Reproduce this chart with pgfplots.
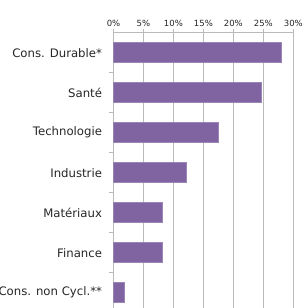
\documentclass[border=0pt]{standalone}
\usepackage{pgfplots}
\pgfplotsset{compat=1.18}
\usepackage{fontspec}
\setmainfont{DejaVu Sans}
\definecolor{barpurple}{HTML}{8064A2}
\definecolor{baredge}{HTML}{9A85B6}
\definecolor{gridgray}{HTML}{BABABA}
\begin{document}
\begin{tikzpicture}
\begin{axis}[
  name=ax,
  scale only axis,
  width=179.8pt, height=280pt,
  xbar,
  bar width=20pt,
  xmin=0, xmax=30,
  ymin=-0.5, ymax=6.5,
  y dir=reverse,
  xtick={0,5,...,30},
  xticklabels={0\%,5\%,10\%,15\%,20\%,25\%,30\%},
  xticklabel pos=top,
  xtick pos=top,
  tick align=outside,
  major tick length=4pt,
  xmajorgrids,
  grid style={gridgray, line width=1.3pt},
  axis line style={gridgray, line width=1.3pt},
  tick style={gridgray, line width=1.3pt},
  ytick={0.5,1.5,2.5,3.5,4.5,5.5},
  yticklabels={},
  ytick pos=left,
  extra y ticks={0,1,2,3,4,5,6},
  extra y tick labels={Cons. Durable*,Santé,Technologie,Industrie,Matériaux,Finance,Cons. non Cycl.**},
  extra y tick style={major tick length=0pt, ytick pos=left, tick style={draw=none},
     yticklabel style={font=\fontsize{11.7}{13.5}\selectfont, text=black!85, xshift=-8pt}},
  xticklabel style={font=\fontsize{8.5}{10}\selectfont, text=black!85, yshift=-1pt},
]
\addplot[fill=barpurple, draw=baredge, line width=0.6pt] coordinates {
  (28.0,0) (24.7,1) (17.5,2) (12.2,3) (8.2,4) (8.1,5) (1.75,6)
};
\end{axis}
\pgfresetboundingbox
\path ([xshift=-113.5pt,yshift=32.7pt]ax.north west) rectangle ([xshift=303pt-113.5pt,yshift=32.7pt-308pt]ax.north west);
\end{tikzpicture}
\end{document}
